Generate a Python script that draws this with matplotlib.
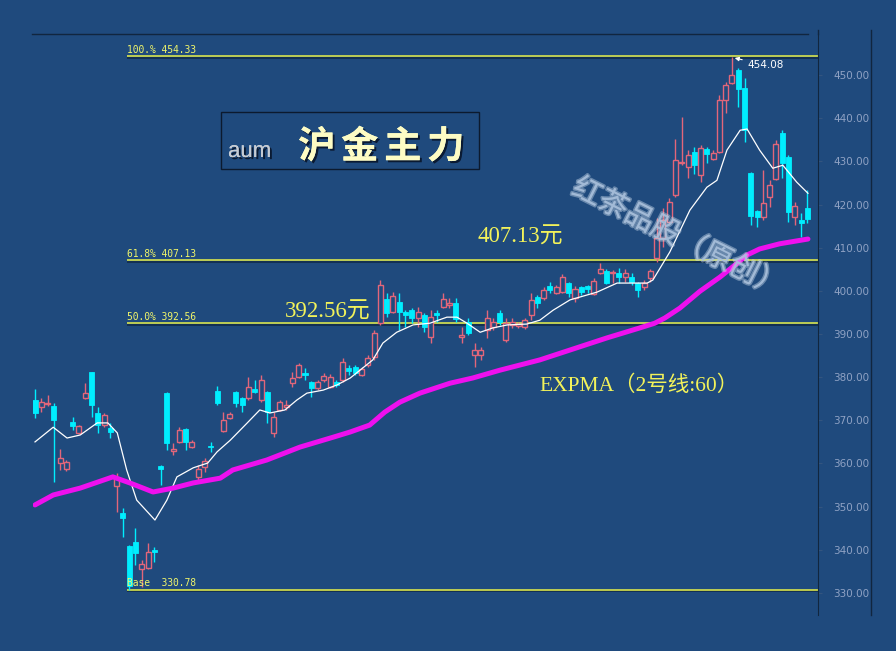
import numpy as np
import matplotlib
matplotlib.use('Agg')
import matplotlib.pyplot as plt
from matplotlib.patches import Rectangle
from matplotlib.lines import Line2D
import matplotlib.patheffects as pe

# K线数据（开、高、低、收）
opens = [374.7, 373.1, 373.7, 373.3, 360.1, 358.7, 369.6, 367.1, 375.2, 381.2,
         371.7, 368.9, 368.2, 354.8, 348.5, 340.9, 341.8, 335.6, 335.8, 340.0,
         359.4, 376.3, 362.8, 365.0, 368.0, 363.8, 356.9, 359.2, 364.1, 376.8,
         367.5, 370.5, 376.6, 375.2, 375.2, 377.2, 374.7, 376.6, 367.1, 372.4,
         373.1, 378.6, 380.0, 380.9, 378.9, 377.5, 379.3, 377.7, 378.9, 379.3,
         382.1, 382.3, 380.5, 382.8, 384.7, 392.5, 398.1, 395.1, 397.4, 395.1,
         395.5, 393.7, 394.4, 389.3, 394.8, 396.2, 396.7, 397.2, 389.3, 392.8,
         385.1, 385.1, 390.9, 391.6, 394.8, 388.6, 392.1, 391.8, 391.6, 394.4,
         398.6, 398.4, 401.1, 399.5, 399.7, 401.8, 398.4, 400.9, 401.1, 399.2,
         404.1, 404.6, 404.1, 404.1, 403.2, 403.2, 401.8, 400.9, 403.0, 407.6,
         412.2, 416.0, 422.2, 429.6, 428.7, 432.1, 426.8, 432.8, 430.5, 432.1,
         444.2, 448.1, 451.1, 446.9, 427.3, 418.5, 417.1, 421.7, 425.9, 436.5,
         431.0, 417.1, 416.4, 419.2]
highs = [377.2, 375.2, 375.9, 374.0, 363.4, 360.8, 370.8, 368.9, 378.6, 381.2,
         373.1, 371.7, 369.4, 357.8, 349.7, 341.2, 345.1, 337.6, 341.6, 340.7,
         359.6, 376.5, 364.7, 368.4, 368.2, 365.4, 359.6, 361.3, 365.0, 377.9,
         371.9, 371.9, 376.8, 375.4, 380.0, 379.3, 380.5, 376.8, 371.9, 374.7,
         374.7, 381.2, 383.3, 382.1, 379.1, 379.3, 380.9, 380.7, 379.3, 384.4,
         382.8, 382.8, 382.3, 385.1, 390.9, 402.5, 399.5, 399.7, 399.5, 395.5,
         396.0, 396.2, 394.8, 395.5, 395.5, 399.5, 398.3, 398.3, 391.6, 393.7,
         387.9, 387.0, 395.5, 393.7, 395.5, 393.7, 393.7, 392.8, 393.7, 399.5,
         399.0, 400.9, 402.0, 401.3, 403.9, 402.0, 401.1, 401.1, 401.3, 403.0,
         406.4, 405.0, 404.8, 405.3, 405.0, 404.1, 402.0, 402.5, 405.0, 416.9,
         419.2, 421.5, 435.1, 440.2, 432.6, 433.3, 433.8, 433.3, 432.6, 445.3,
         448.3, 454.08, 451.6, 449.3, 427.5, 418.7, 428.0, 425.6, 434.9, 437.2,
         431.4, 420.6, 418.0, 423.3]
lows = [370.5, 371.9, 373.4, 355.7, 358.5, 358.3, 367.8, 366.8, 375.0, 370.8,
        367.1, 368.4, 365.9, 348.8, 343.0, 330.78, 336.5, 331.5, 335.6, 337.2,
        355.0, 363.1, 362.0, 364.7, 363.1, 363.6, 355.7, 358.0, 362.7, 373.5,
        367.3, 370.3, 373.1, 371.9, 374.7, 376.3, 374.2, 369.4, 366.1, 372.1,
        372.4, 377.7, 379.8, 379.3, 375.4, 377.0, 378.9, 377.5, 377.7, 378.9,
        380.5, 380.5, 380.3, 382.3, 384.0, 392.1, 393.9, 394.9, 390.9, 391.6,
        392.5, 391.6, 390.4, 387.9, 392.8, 396.0, 396.0, 392.8, 387.9, 389.8,
        382.3, 384.0, 389.1, 390.9, 392.1, 388.1, 391.4, 391.4, 391.2, 393.2,
        396.0, 397.9, 399.5, 399.3, 399.5, 398.6, 397.4, 399.0, 399.5, 399.0,
        403.9, 401.6, 401.8, 401.8, 402.0, 401.3, 398.6, 400.2, 402.0, 406.7,
        410.1, 415.7, 421.7, 429.1, 426.1, 427.0, 425.2, 429.6, 430.3, 431.9,
        441.2, 448.0, 442.6, 434.5, 415.2, 414.8, 416.4, 419.4, 425.6, 426.1,
        415.9, 415.2, 412.4, 415.7]
closes = [371.7, 374.2, 374.0, 370.1, 361.3, 360.3, 368.7, 368.7, 376.3, 373.5,
          368.9, 371.2, 367.3, 356.6, 347.4, 331.6, 339.3, 336.7, 339.5, 339.5,
          358.7, 364.7, 363.4, 367.8, 365.0, 365.0, 358.7, 360.6, 363.8, 374.0,
          370.1, 371.5, 374.0, 373.5, 377.7, 376.6, 379.3, 371.9, 370.8, 374.2,
          373.5, 379.8, 382.8, 380.5, 377.5, 378.9, 380.3, 380.0, 378.2, 383.5,
          381.4, 380.9, 381.9, 384.4, 390.2, 401.3, 394.8, 398.8, 395.1, 394.4,
          393.7, 395.1, 391.6, 393.9, 394.4, 398.1, 397.2, 393.5, 389.8, 390.2,
          386.3, 386.3, 393.7, 392.8, 392.8, 392.5, 392.8, 392.3, 393.2, 397.9,
          397.2, 400.2, 400.2, 400.9, 403.2, 399.5, 400.4, 399.7, 400.4, 402.3,
          405.0, 401.8, 404.3, 403.2, 404.1, 402.0, 400.2, 401.8, 404.6, 412.2,
          416.4, 420.6, 430.3, 429.8, 431.4, 429.1, 433.1, 431.7, 431.9, 444.2,
          447.7, 449.9, 446.7, 437.2, 417.3, 417.1, 420.3, 424.5, 434.0, 429.6,
          418.2, 419.6, 415.7, 416.6]

# 白色短线（按K线序号读点）
fast_idx = [0, 2.9, 5.1, 7.2, 9.9, 11.6, 13.1, 14.6, 16.2, 19.1, 21.0, 22.6, 25.2,
            27.5, 29.0, 31.1, 33.8, 35.8, 37.4, 39.8, 41.7, 43.3, 45.9, 48.1, 50.2,
            53.8, 55.4, 57.6, 60.2, 62.9, 65.6, 67.2, 68.8, 70.9, 72.9, 75.2, 78.3,
            80.4, 82.5, 85.2, 89.5, 92.7, 97.5, 98.4, 101.1, 104.3, 107.0, 108.6,
            110.2, 112.3, 113.4, 115.4, 117.5, 119.1, 121.3, 123.1]
fast_val = [365.0, 368.4, 365.9, 366.6, 369.4, 369.4, 367.1, 358.5, 351.5, 346.9,
            351.5, 356.9, 359.0, 360.1, 362.7, 365.4, 369.4, 372.4, 371.7, 372.4,
            374.7, 376.3, 377.0, 378.2, 379.8, 384.0, 387.9, 390.4, 392.1, 392.5,
            393.9, 393.9, 392.5, 390.4, 391.4, 392.1, 392.3, 393.2, 395.5, 397.9,
            399.7, 401.8, 401.8, 402.5, 409.0, 418.7, 424.0, 425.6, 432.6, 437.2,
            437.5, 432.6, 428.4, 429.1, 425.2, 422.6]

# EXPMA 60（紫色）
slow_idx = [0, 2.9, 7.2, 12.4, 15.1, 18.8, 22.0, 25.2, 29.5, 31.5, 36.9, 42.2, 47.5,
            50.2, 53.3, 55.7, 58.1, 61.3, 66.1, 69.7, 74.0, 80.4, 91.1, 96.3, 98.7,
            100.3, 102.7, 105.9, 109.1, 111.5, 113.4, 115.4, 118.6, 123.1]
slow_val = [350.4, 352.7, 354.3, 356.9, 355.5, 353.4, 354.3, 355.5, 356.6, 358.5,
            360.8, 363.8, 366.1, 367.3, 368.9, 371.9, 374.2, 376.3, 378.6, 379.8,
            381.6, 384.0, 389.1, 391.4, 392.5, 393.7, 396.0, 399.9, 403.2, 406.0,
            408.3, 409.7, 410.9, 412.0]

# 黄金分割线
fib_levels = [454.33, 407.13, 392.56, 330.78]
fib_labels = ['100.% 454.33', '61.8% 407.13', '50.0% 392.56', 'Base  330.78']
base_idx = 15

bg = '#1f4a7d'
up_c = '#e2667a'
down_c = '#00eeff'
fib_c = '#e8f24a'
W, H = 896, 651

fig = plt.figure(figsize=(W / 100, H / 100), dpi=100, facecolor=bg)
ax = fig.add_axes([33 / W, 1 - 615 / H, (818 - 33) / W, (615 - 34) / H])
ax.set_facecolor(bg)
n = len(opens)
ax.set_xlim(-0.32, 124.7)
ax.set_ylim(324.9, 459.5)

# 黄金分割线和标签
for lv, lb in zip(fib_levels, fib_labels):
    ax.hlines(lv, base_idx - 0.4, 124.7, color=fib_c, lw=1.1, zorder=1,
              path_effects=[pe.SimpleLineShadow(offset=(0, -1.2), shadow_color='#0a1a30', alpha=0.7), pe.Normal()])
    ax.text(base_idx - 0.4, lv + 0.3, lb, color='#f0f56a', fontsize=6.9,
            family='DejaVu Sans Mono', va='bottom', ha='left', zorder=6)

# K线
bw = 0.8
for i in range(n):
    o, h, l, c = opens[i], highs[i], lows[i], closes[i]
    if c >= o:
        ax.vlines(i, l, h, color=up_c, lw=1, zorder=3)
        ax.add_patch(Rectangle((i - bw / 2, o), bw, max(c - o, 0.2), facecolor=bg,
                               edgecolor=up_c, lw=1, zorder=3))
    else:
        ax.vlines(i, l, h, color=down_c, lw=1, zorder=3)
        ax.add_patch(Rectangle((i - bw / 2, c), bw, max(o - c, 0.2), facecolor=down_c,
                               edgecolor=down_c, lw=0.6, zorder=3))

ax.plot(fast_idx, fast_val, color='white', lw=0.9, zorder=4)
ax.plot(slow_idx, slow_val, color='#ee10ee', lw=3.6, zorder=4,
        solid_capstyle='round', solid_joinstyle='round')

# 最高点标注
ax.annotate('454.08', xy=(111, 454.08), xytext=(113.5, 452.3), color='white', fontsize=7.5,
            va='center', ha='left', zorder=7,
            arrowprops=dict(arrowstyle='-|>', color='white', lw=0.8, mutation_scale=6))

cjk = ['Liberation Serif', 'Noto Sans CJK SC']
ax.text(70.5, 411.1, '407.13元', color='#f2f25a', fontsize=16.5, family=cjk, va='baseline', zorder=6)
ax.text(39.8, 393.7, '392.56元', color='#f2f25a', fontsize=16.5, family=cjk, va='baseline', zorder=6)
ax.text(80.4, 376.8, 'EXPMA（2号线:60）', color='#f2f25a', fontsize=15.5, family=cjk,
        va='baseline', zorder=6)

# 坐标轴
for s in ['top', 'left', 'bottom']:
    ax.spines[s].set_visible(False)
ax.spines['right'].set_color('#11263f')
ax.set_xticks([])
ax.yaxis.tick_right()
ax.set_yticks(np.arange(330, 451, 10))
ax.set_yticklabels(['%.2f' % v for v in np.arange(330, 451, 10)])
ax.tick_params(axis='y', colors='#33557f', labelcolor='#8fa2c4', labelsize=7.5,
               length=3, pad=8)

# 外框线
fig.add_artist(Line2D([871 / W, 871 / W], [1 - 615 / H, 1 - 30 / H], color='#11263f', lw=1))
fig.add_artist(Line2D([818 / W, 818 / W], [1 - 34 / H, 1 - 30 / H], color='#11263f', lw=1))
fig.add_artist(Line2D([32 / W, 808 / W], [1 - 34 / H, 1 - 34 / H], color='#11263f', lw=1))

# 标题框
fig.add_artist(Rectangle((221 / W, 1 - 169 / H), (479 - 221) / W, (169 - 112) / H,
                         transform=fig.transFigure, facecolor='none', edgecolor='#0c1a2e', lw=1))
shadow = [pe.withSimplePatchShadow(offset=(1.5, -1.5), shadow_rgbFace='#08152a', alpha=0.9), pe.Normal()]
fig.text(228 / W, 1 - 157 / H, 'aum', color='#c6ccd4', fontsize=16, family='Liberation Sans',
         va='baseline', path_effects=shadow)
for k, ch in enumerate('沪金主力'):
    fig.text((298 + 43 * k) / W, 1 - 158 / H, ch, color='#fdfcc4', fontsize=27,
             family='Noto Sans CJK SC', weight='bold', va='baseline', path_effects=shadow)

# 水印
fig.text(678 / W, 1 - 238 / H, '红茶品股（原创）', color='#a9c0dc', fontsize=21,
         family='Noto Sans CJK SC', rotation=-26.5, ha='center', va='center', alpha=0.8,
         path_effects=[pe.withStroke(linewidth=2.2, foreground='#d8e6f4', alpha=0.4)])

fig.savefig('out.png', dpi=100, facecolor=bg)
